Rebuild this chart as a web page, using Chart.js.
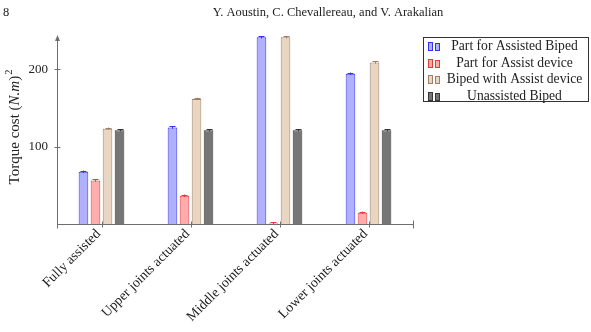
<!DOCTYPE html>
<html><head><meta charset="utf-8">
<script src="https://cdn.jsdelivr.net/npm/chart.js@4/dist/chart.umd.min.js"></script>
<style>html,body{margin:0;padding:0;background:#fff;}canvas{display:block;}</style>
</head><body>
<canvas id="c" width="591" height="332"></canvas>
<script>
const categories = ["Fully assisted", "Upper joints actuated", "Middle joints actuated", "Lower joints actuated"];
const seriesNames = ["Part for Assisted Biped", "Part for Assist device", "Biped with Assist device", "Unassisted Biped"];
const assistedBiped = [67.5, 124.5, 241, 194];
const assistDevice = [56, 36.5, 1, 14.5];
const bipedWithDevice = [123, 161.5, 241, 208.5];
const unassistedBiped = [121, 121, 121, 121];
const errors = [1.5, 1.5, 1.5, 1.5];
const yTicks = [100, 200];
const yMax = 244;
const headerPage = "8";
const headerAuthors = "Y. Aoustin, C. Chevallereau, and V. Arakalian";

const SERIF = '"Liberation Serif", "DejaVu Serif", serif';
const fills = ["rgb(176,176,255)", "rgb(255,172,172)", "rgb(232,214,194)", "rgb(118,118,118)"];
const borders = ["rgb(50,50,245)", "rgb(235,55,55)", "rgb(160,128,100)", "rgb(55,55,55)"];
const seriesData = [assistedBiped, assistDevice, bipedWithDevice, unassistedBiped];

const datasets = seriesData.map((d, i) => ({
  label: seriesNames[i], data: d,
  backgroundColor: fills[i], borderColor: borders[i], borderWidth: 1,
  categoryPercentage: 0.54, barPercentage: 0.8, errors: errors
}));

const AX = "rgb(110,110,110)";
const customPlugin = {
  id: 'custom',
  afterDatasetsDraw(chart) {
    const ctx = chart.ctx, ca = chart.chartArea;
    const ys = chart.scales.y, xs = chart.scales.x;
    chart.data.datasets.forEach((ds, di) => {
      const meta = chart.getDatasetMeta(di);
      ctx.save();
      ctx.strokeStyle = ds.borderColor; ctx.lineWidth = 1;
      meta.data.forEach((bar, j) => {
        const v = ds.data[j], e = ds.errors[j];
        const yHi = ys.getPixelForValue(v + e), yLo = ys.getPixelForValue(Math.max(0, v - e));
        const x = Math.round(bar.x) + 0.5;
        ctx.beginPath();
        ctx.moveTo(x, yLo); ctx.lineTo(x, yHi);
        ctx.moveTo(x - 3, Math.round(yHi) + 0.5); ctx.lineTo(x + 3, Math.round(yHi) + 0.5);
        ctx.stroke();
      });
      ctx.restore();
    });
    ctx.save();
    ctx.strokeStyle = AX; ctx.fillStyle = AX; ctx.lineWidth = 1;
    const x0 = Math.round(ca.left) + 0.5, yb = Math.round(ca.bottom) + 0.5;
    ctx.beginPath();
    ctx.moveTo(x0, yb); ctx.lineTo(x0, ca.top + 4);
    ctx.moveTo(ca.left, yb); ctx.lineTo(ca.right, yb);
    ctx.moveTo(x0, yb - 4); ctx.lineTo(x0, yb + 4);
    const xr = Math.round(ca.right) + 0.5;
    ctx.moveTo(xr, yb - 4); ctx.lineTo(xr, yb + 4);
    categories.forEach((c, i) => {
      const x = Math.round(xs.getPixelForValue(i)) + 0.5;
      ctx.moveTo(x, yb - 3); ctx.lineTo(x, yb + 3);
    });
    yTicks.forEach(t => {
      const y = Math.round(ys.getPixelForValue(t)) + 0.5;
      ctx.moveTo(x0 - 3, y); ctx.lineTo(x0 + 3, y);
    });
    ctx.stroke();
    ctx.beginPath();
    ctx.moveTo(x0, ca.top); ctx.lineTo(x0 - 2.5, ca.top + 6); ctx.lineTo(x0 + 2.5, ca.top + 6); ctx.closePath();
    ctx.fill();
    ctx.restore();

    ctx.save();
    ctx.translate(15.5, 127);
    ctx.rotate(-Math.PI / 2);
    ctx.fillStyle = "#222";
    ctx.textBaseline = "middle";
    const fs = 15;
    const parts = [["Torque cost (", fs + "px " + SERIF], ["N.m", "italic " + fs + "px " + SERIF], [")", fs + "px " + SERIF]];
    let total = 0;
    parts.forEach(p => { ctx.font = p[1]; total += ctx.measureText(p[0]).width; });
    ctx.font = "10.5px " + SERIF; const supW = ctx.measureText("2").width; total += supW + 1;
    let cx = -total / 2;
    parts.forEach(p => { ctx.font = p[1]; ctx.fillText(p[0], cx, 0); cx += ctx.measureText(p[0]).width; });
    ctx.font = "10.5px " + SERIF; ctx.fillText("2", cx + 1, -6);
    ctx.restore();

    ctx.save();
    const lx = 423.5, ly = 37.5, lw = 165, lh = 64;
    ctx.fillStyle = "#fff"; ctx.fillRect(lx, ly, lw, lh);
    ctx.strokeStyle = "#333"; ctx.lineWidth = 1; ctx.strokeRect(lx, ly, lw, lh);
    ctx.font = "13.6px " + SERIF; ctx.textAlign = "center"; ctx.textBaseline = "middle";
    chart.data.datasets.forEach((ds, i) => {
      const cy = 46 + i * 16.7;
      ctx.fillStyle = ds.backgroundColor; ctx.strokeStyle = ds.borderColor;
      ctx.fillRect(428.5, Math.round(cy) - 3.5, 4, 8); ctx.strokeRect(428.5, Math.round(cy) - 3.5, 4, 8);
      ctx.fillRect(435.5, Math.round(cy) - 2.5, 4, 7); ctx.strokeRect(435.5, Math.round(cy) - 2.5, 4, 7);
      ctx.fillStyle = "#222";
      ctx.fillText(ds.label, 514.5, cy + 0.5);
    });
    ctx.restore();

    ctx.save();
    ctx.fillStyle = "#222"; ctx.font = "12.5px " + SERIF; ctx.textBaseline = "alphabetic";
    ctx.fillText(headerPage, 3, 16);
    ctx.textAlign = "center";
    ctx.fillText(headerAuthors, 328, 16);
    ctx.restore();
  }
};

new Chart(document.getElementById('c'), {
  type: 'bar',
  data: { labels: categories, datasets: datasets },
  options: {
    responsive: false, animation: false, devicePixelRatio: 1,
    layout: { padding: { left: 0, top: 35, right: 178, bottom: 0 } },
    plugins: { legend: { display: false }, tooltip: { enabled: false } },
    scales: {
      x: {
        grid: { display: false }, border: { display: false },
        ticks: { color: "#222", font: { family: SERIF, size: 13.8 }, maxRotation: 45, minRotation: 45, padding: -6, labelOffset: -3, autoSkip: false },
        afterFit(s) { s.height = 108; }
      },
      y: {
        min: 0, max: yMax,
        grid: { display: false }, border: { display: false },
        ticks: { color: "#222", font: { family: SERIF, size: 13 }, padding: 1, stepSize: 100 },
        afterBuildTicks(s) { s.ticks = yTicks.map(v => ({ value: v })); },
        afterFit(s) { s.width = 57; }
      }
    }
  },
  plugins: [customPlugin]
});
</script>
</body></html>
